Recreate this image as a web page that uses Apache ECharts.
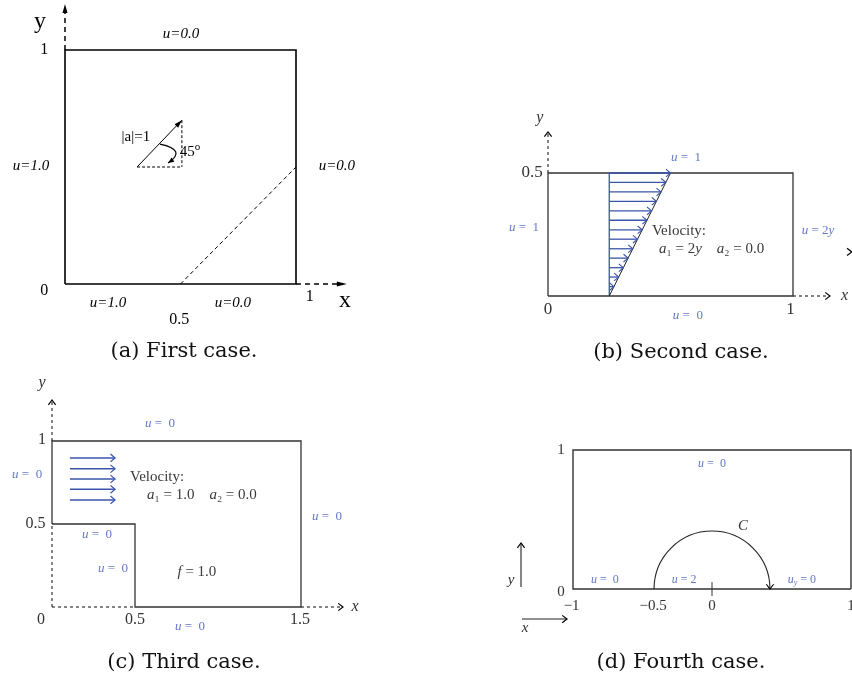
<!DOCTYPE html>
<html><head><meta charset="utf-8">
<script src="https://cdn.jsdelivr.net/npm/echarts@6/dist/echarts.min.js"></script>
<style>html,body{margin:0;padding:0;background:#fff}#c{width:852px;height:684px}</style>
</head><body><div id="c"></div>
<script>
// ---------- Panel A : first case ----------
const A_box = [[0,0],[1,0],[1,1],[0,1],[0,0]];
const A_charLine = [[0.5,0],[1,0.5]];
const A_vector = [[0.312,0.5],[0.506,0.70]];
const A_angleArc = [[0.411,0.598],[0.53,0.573],[0.446,0.517]];
const A_boundary = [['u=0.0',0.502,1.07],['u=1.0',-0.147,0.504],['u=0.0',1.177,0.504],['u=1.0',0.186,-0.081],['u=0.0',0.727,-0.081]];
const A_ticks = [['1',-0.09,1.0],['0',-0.09,-0.03],['0.5',0.495,-0.152],['1',1.06,-0.056]];
const A_axisNames = [['y',-0.108,1.122],['x',1.212,-0.07]];

// ---------- Panel B : second case ----------
const B_box = [[0,0],[1,0],[1,0.5],[0,0.5],[0,0]];
const B_profileX0 = 0.25;
const B_profileScale = 0.25;
const B_profileY = [0.038,0.077,0.115,0.154,0.192,0.231,0.269,0.308,0.346,0.385,0.423,0.462,0.5];
const B_profileU = [0.077,0.154,0.231,0.308,0.385,0.462,0.538,0.615,0.692,0.769,0.846,0.923,1.0];
const B_boundary = [['{i|u} =  1',0.563,0.561],['{i|u} =  1',-0.098,0.28],['{i|u} = 2{i|y}',1.102,0.264],['{i|u} =  0',0.571,-0.081]];
const B_ticks = [['0.5',-0.065,0.5],['0',0,-0.057],['1',0.99,-0.057]];
const B_axisNames = [['y',-0.033,0.724],['x',1.21,0]];
const B_velocity = ['Velocity:', '{i|a}₁ = 2{i|y}    {i|a}₂ = 0.0'];

// ---------- Panel C : third case ----------
const C_domain = [[0,0.5],[0,1],[1.5,1],[1.5,0],[0.5,0],[0.5,0.5],[0,0.5]];
const C_arrowX0 = 0.108;
const C_arrowScale = 0.272;
const C_arrowY = [0.898,0.833,0.771,0.709,0.645];
const C_arrowU = [1.0,1.0,1.0,1.0,1.0];
const C_boundary = [['{i|u} =  0',0.651,1.102],['{i|u} =  0',-0.15,0.795],['{i|u} =  0',1.657,0.542],['{i|u} =  0',0.271,0.434],['{i|u} =  0',0.367,0.229],['{i|u} =  0',0.831,-0.12]];
const C_ticks = [['1',-0.06,1.006],['0.5',-0.1,0.5],['0',-0.066,-0.078],['0.5',0.5,-0.078],['1.5',1.494,-0.078]];
const C_axisNames = [['y',-0.06,1.35],['x',1.825,0]];
const C_velocity = ['Velocity:', '{i|a}₁ = 1.0    {i|a}₂ = 0.0'];
const C_source = ['{i|f} = 1.0', 0.873, 0.211];

// ---------- Panel D : fourth case ----------
const D_box = [[1,0],[-1,0],[-1,1],[1,1],[1,0]];
const D_contourR = 0.417;
const D_xTicks = [['−1',-1.01],['−0.5',-0.424],['0',0],['1',1.0]];
const D_yTicks = [['1',1.0],['0',-0.02]];
const D_boundary = [['{i|u} =  0',0,0.9],['{i|u} =  0',-0.77,0.065],['{i|u} = 2',-0.2,0.065],['{i|u}{s|y} = 0',0.647,0.065]];
const D_contourName = ['C',0.223,0.453];

const captions = [['(a) First case.',184,352],['(b) Second case.',681,353],['(c) Third case.',184,663],['(d) Fourth case.',681,663]];

const SERIF = 'Liberation Serif';
const BLUE_T = '#6378c4';
const BLUE_L = '#3b55aa';
const GRAY = '#3a3a3a';

function C(api,p){return api.coord(p);}
function seg(api,a,b,st){const p=C(api,a),q=C(api,b);return {type:'line',shape:{x1:p[0],y1:p[1],x2:q[0],y2:q[1]},style:Object.assign({stroke:'#000',lineWidth:1},st)};}
function poly(api,pts,st){return {type:'polyline',shape:{points:pts.map(p=>C(api,p))},style:Object.assign({stroke:'#000',fill:null,lineWidth:1},st)};}
function chevPx(f,t,st,len,ang){len=len||6;ang=ang||0.65;const th=Math.atan2(t[1]-f[1],t[0]-f[0]);
  const p1=[t[0]-len*Math.cos(th-ang),t[1]-len*Math.sin(th-ang)],p2=[t[0]-len*Math.cos(th+ang),t[1]-len*Math.sin(th+ang)];
  return {type:'polyline',shape:{points:[p1,t,p2]},style:Object.assign({stroke:'#000',fill:null,lineWidth:1.2},st)};}
function chev(api,from,tip,st,len,ang){return chevPx(C(api,from),C(api,tip),st,len,ang);}
function triPx(f,t,fill,len,w){len=len||9;w=w||3;const th=Math.atan2(t[1]-f[1],t[0]-f[0]);
  const b=[t[0]-len*Math.cos(th),t[1]-len*Math.sin(th)];
  const n=[-Math.sin(th),Math.cos(th)];
  return {type:'polygon',shape:{points:[t,[b[0]+n[0]*w,b[1]+n[1]*w],[b[0]-n[0]*w,b[1]-n[1]*w]]},style:{fill:fill||'#000',stroke:null}};}
function tri(api,from,tip,fill,len,w){return triPx(C(api,from),C(api,tip),fill,len,w);}
function txt(api,p,s,st){const c=C(api,p);return {type:'text',x:c[0],y:c[1],style:Object.assign({text:s,fill:'#000',align:'center',verticalAlign:'middle',fontFamily:SERIF,fontSize:15},st)};}

function richMath(size,color){return {i:{fontStyle:'italic',fontFamily:SERIF,fontSize:size,fill:color},
  s:{fontStyle:'italic',fontFamily:SERIF,fontSize:Math.round(size*0.7),fill:color,padding:[Math.round(size*0.45),0,0,0]},
  sup:{fontFamily:SERIF,fontSize:Math.round(size*0.7),fill:color,padding:[0,0,Math.round(size*0.6),0]}};}

function drawA(api){
  const ch=[];
  ch.push(poly(api,A_box,{lineWidth:1.6}));
  ch.push(seg(api,A_charLine[0],A_charLine[1],{lineDash:[4,3]}));
  ch.push(seg(api,[0,1],[0,1.16],{lineWidth:1.5,lineDash:[5,4]}));
  ch.push(tri(api,[0,1.1],[0,1.197],'#000',9,2.5));
  ch.push(seg(api,[1,0],[1.19,0],{lineWidth:1.5,lineDash:[5,4]}));
  ch.push(tri(api,[1.1,0],[1.22,0],'#000',10,2.5));
  ch.push(seg(api,A_vector[0],A_vector[1],{lineWidth:1}));
  ch.push(tri(api,A_vector[0],A_vector[1],'#000',8,2.5));
  ch.push(seg(api,A_vector[0],[A_vector[1][0],A_vector[0][1]],{lineDash:[3,2]}));
  ch.push(seg(api,A_vector[1],[A_vector[1][0],A_vector[0][1]],{lineDash:[3,2]}));
  const s=C(api,A_angleArc[0]),cp=C(api,A_angleArc[1]),e=C(api,A_angleArc[2]);
  ch.push({type:'bezierCurve',shape:{x1:s[0],y1:s[1],x2:e[0],y2:e[1],cpx1:cp[0],cpy1:cp[1]},style:{stroke:'#000',fill:null,lineWidth:1.2}});
  ch.push(triPx(cp,e,'#000',6,2.5));
  A_boundary.forEach(b=>ch.push(txt(api,[b[1],b[2]],b[0],{fontStyle:'italic',fontSize:15})));
  A_ticks.forEach(b=>ch.push(txt(api,[b[1],b[2]],b[0],{fontSize:16})));
  A_axisNames.forEach(b=>ch.push(txt(api,[b[1],b[2]],b[0],{fontSize:24})));
  ch.push(txt(api,[0.307,0.628],'|a|=1',{fontSize:15}));
  ch.push(txt(api,[0.497,0.564],'45{sup|o}',{fontSize:15,align:'left',rich:richMath(15,'#000')}));
  return ch;
}

function drawB(api){
  const ch=[];
  ch.push(poly(api,B_box,{stroke:'#333',lineWidth:1.3}));
  ch.push(seg(api,[0,0.5],[0,0.66],{stroke:'#333',lineDash:[3,3],lineWidth:1.2}));
  ch.push(chev(api,[0,0.6],[0,0.667],{},6));
  ch.push(seg(api,[1,0],[1.145,0],{stroke:'#333',lineDash:[3,3],lineWidth:1.2}));
  ch.push(chev(api,[1.1,0],[1.151,0],{},6));
  ch.push(chev(api,[1.2,0.179],[1.24,0.179],{},6));
  const top=B_profileY[B_profileY.length-1];
  ch.push(seg(api,[B_profileX0,0],[B_profileX0,top],{stroke:BLUE_L,lineWidth:1.3}));
  ch.push(seg(api,[B_profileX0,0],[B_profileX0+B_profileScale*B_profileU[B_profileU.length-1],top],{stroke:'#222',lineWidth:1}));
  B_profileY.forEach((y,i)=>{const x1=B_profileX0+B_profileScale*B_profileU[i];
    ch.push(seg(api,[B_profileX0,y],[x1,y],{stroke:BLUE_L,lineWidth:1.3}));
    ch.push(chev(api,[B_profileX0,y],[x1,y],{stroke:BLUE_L,lineWidth:1.1},6,0.7));});
  B_boundary.forEach(b=>ch.push(txt(api,[b[1],b[2]],b[0],{fontSize:13,fill:BLUE_T,rich:richMath(13,BLUE_T)})));
  B_ticks.forEach(b=>ch.push(txt(api,[b[1],b[2]],b[0],{fontSize:17,fill:'#333'})));
  B_axisNames.forEach(b=>ch.push(txt(api,[b[1],b[2]],b[0],{fontSize:16,fontStyle:'italic',fill:'#333'})));
  ch.push(txt(api,[0.424,0.264],B_velocity[0],{fontSize:15,align:'left',fill:GRAY}));
  ch.push(txt(api,[0.453,0.191],B_velocity[1],{fontSize:15,align:'left',fill:GRAY,rich:richMath(15,GRAY)}));
  return ch;
}

function drawC(api){
  const ch=[];
  ch.push(poly(api,C_domain,{stroke:'#333',lineWidth:1.3}));
  const dash={stroke:'#222',lineDash:[3,3],lineWidth:1.1};
  ch.push(seg(api,[0,0],[0,0.5],dash));
  ch.push(seg(api,[0,1],[0,1.24],dash));
  ch.push(chev(api,[0,1.2],[0,1.247],{},6));
  ch.push(seg(api,[0,0],[0.5,0],dash));
  ch.push(seg(api,[1.5,0],[1.745,0],dash));
  ch.push(chev(api,[1.7,0],[1.753,0],{},6));
  C_arrowY.forEach((y,i)=>{const x1=C_arrowX0+C_arrowScale*C_arrowU[i];
    ch.push(seg(api,[C_arrowX0,y],[x1,y],{stroke:BLUE_L,lineWidth:1.5}));
    ch.push(chev(api,[C_arrowX0,y],[x1,y],{stroke:BLUE_L,lineWidth:1.2},6,0.7));});
  C_boundary.forEach(b=>ch.push(txt(api,[b[1],b[2]],b[0],{fontSize:13,fill:BLUE_T,rich:richMath(13,BLUE_T)})));
  C_ticks.forEach(b=>ch.push(txt(api,[b[1],b[2]],b[0],{fontSize:16,fill:'#333'})));
  C_axisNames.forEach(b=>ch.push(txt(api,[b[1],b[2]],b[0],{fontSize:16,fontStyle:'italic',fill:'#333'})));
  ch.push(txt(api,[0.47,0.783],C_velocity[0],{fontSize:15,align:'left',fill:GRAY}));
  ch.push(txt(api,[0.572,0.675],C_velocity[1],{fontSize:15,align:'left',fill:GRAY,rich:richMath(15,GRAY)}));
  ch.push(txt(api,[C_source[1],C_source[2]],C_source[0],{fontSize:15,fill:GRAY,rich:richMath(15,GRAY)}));
  return ch;
}

function drawD(api){
  const ch=[];
  ch.push(poly(api,D_box,{stroke:'#333',lineWidth:1.4}));
  ch.push(seg(api,[0,-0.05],[0,0.05],{stroke:'#333',lineWidth:1}));
  const c0=C(api,[0,0]);const r=api.size([D_contourR,0])[0];
  ch.push({type:'arc',shape:{cx:c0[0],cy:c0[1],r:r,startAngle:Math.PI,endAngle:2*Math.PI,clockwise:true},style:{stroke:'#222',fill:null,lineWidth:1.1}});
  ch.push(chev(api,[D_contourR,0.1],[D_contourR,0],{lineWidth:1.1},6));
  ch.push(seg(api,[-1.374,0.014],[-1.374,0.331],{stroke:'#222',lineWidth:1.1}));
  ch.push(chev(api,[-1.374,0.2],[-1.374,0.331],{},6));
  ch.push(seg(api,[-1.367,-0.216],[-1.043,-0.216],{stroke:'#222',lineWidth:1.1}));
  ch.push(chev(api,[-1.2,-0.216],[-1.043,-0.216],{},6));
  ch.push(txt(api,[-1.446,0.065],'y',{fontSize:15,fontStyle:'italic',fill:'#333'}));
  ch.push(txt(api,[-1.345,-0.28],'x',{fontSize:15,fontStyle:'italic',fill:'#333'}));
  D_xTicks.forEach(b=>ch.push(txt(api,[b[1],-0.12],b[0],{fontSize:15,fill:'#333'})));
  D_yTicks.forEach(b=>ch.push(txt(api,[-1.086,b[1]],b[0],{fontSize:15,fill:'#333'})));
  D_boundary.forEach(b=>ch.push(txt(api,[b[1],b[2]],b[0],{fontSize:12,fill:BLUE_T,rich:richMath(12,BLUE_T)})));
  ch.push(txt(api,[D_contourName[1],D_contourName[2]],D_contourName[0],{fontSize:15,fontStyle:'italic',fill:'#333'}));
  return ch;
}

const chart = echarts.init(document.getElementById('c'), null, {renderer:'canvas'});
const ax = (i,min,max)=>({gridIndex:i,type:'value',min:min,max:max,show:false});
const mk = (i,fn)=>({type:'custom',xAxisIndex:i,yAxisIndex:i,data:[[0,0]],clip:false,silent:true,
  renderItem:(p,api)=>({type:'group',children:fn(api)})});
chart.setOption({
  animation:false,
  backgroundColor:'#fff',
  grid:[{left:65,top:50,width:231,height:234},{left:548,top:173,width:245,height:123},{left:52,top:441,width:249,height:166},{left:573,top:450,width:278,height:139}],
  xAxis:[ax(0,0,1),ax(1,0,1),ax(2,0,1.5),ax(3,-1,1)],
  yAxis:[ax(0,0,1),ax(1,0,0.5),ax(2,0,1),ax(3,0,1)],
  series:[mk(0,drawA),mk(1,drawB),mk(2,drawC),mk(3,drawD)],
  graphic: captions.map(c=>({type:'text',x:c[1],y:c[2],silent:true,style:{text:c[0],fontFamily:'DejaVu Serif',fontSize:21,fill:'#111',align:'center',verticalAlign:'middle'}}))
});
</script></body></html>
